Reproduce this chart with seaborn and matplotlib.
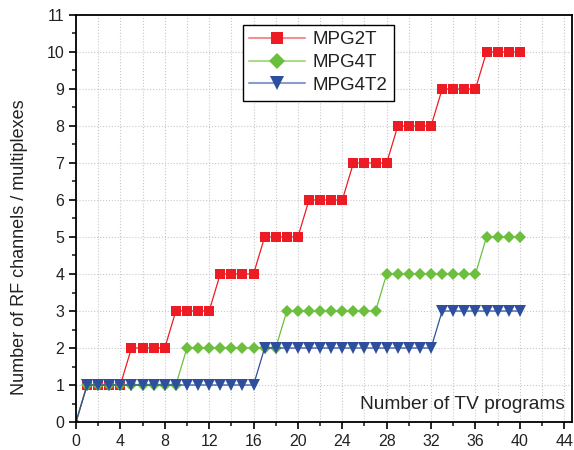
import matplotlib
matplotlib.use("Agg")
import matplotlib.pyplot as plt
from matplotlib.ticker import MultipleLocator
import seaborn as sns

sns.set_theme(style="ticks")
plt.rcParams['font.family'] = ['Liberation Sans', 'DejaVu Sans']

# number of TV programs (0..40)
programs = list(range(0, 41))

# RF channels / multiplexes needed for each scheme
mpg2t = [0,
         1, 1, 1, 1, 2, 2, 2, 2, 3, 3,
         3, 3, 4, 4, 4, 4, 5, 5, 5, 5,
         6, 6, 6, 6, 7, 7, 7, 7, 8, 8,
         8, 8, 9, 9, 9, 9, 10, 10, 10, 10]
mpg4t = [0,
         1, 1, 1, 1, 1, 1, 1, 1, 1, 2,
         2, 2, 2, 2, 2, 2, 2, 2, 3, 3,
         3, 3, 3, 3, 3, 3, 3, 4, 4, 4,
         4, 4, 4, 4, 4, 4, 5, 5, 5, 5]
mpg4t2 = [0,
          1, 1, 1, 1, 1, 1, 1, 1, 1, 1,
          1, 1, 1, 1, 1, 1, 2, 2, 2, 2,
          2, 2, 2, 2, 2, 2, 2, 2, 2, 2,
          2, 2, 3, 3, 3, 3, 3, 3, 3, 3]

series = [
    ("MPG2T", mpg2t, "#ED1C24", "#F39096", "s", 6.8),
    ("MPG4T", mpg4t, "#6CBF3C", "#A9DA8E", "D", 6.5),
    ("MPG4T2", mpg4t2, "#2E4F9E", "#8A9CCB", "v", 8.3),
]

fig = plt.figure(figsize=(5.74, 4.5), dpi=100)
ax = fig.add_axes([0.1324, 0.0622, 0.8641, 0.9045])

for name, vals, col, light, mk, ms in series:
    sns.lineplot(x=programs, y=vals, ax=ax, color=col, marker=mk,
                 markersize=ms, markeredgewidth=0, linewidth=0.9,
                 markevery=list(range(1, 41)), label=name)
    # tiny marker at the origin
    ax.plot([0], [0], marker=mk, color=col, markersize=3, markeredgewidth=0)

ax.set_xlim(0, 44.7)
ax.set_ylim(0, 11)
ax.xaxis.set_major_locator(MultipleLocator(4))
ax.xaxis.set_minor_locator(MultipleLocator(2))
ax.yaxis.set_major_locator(MultipleLocator(1))
ax.yaxis.set_minor_locator(MultipleLocator(0.5))

ax.grid(True, which='both', axis='x', color='#c8c8c8', linestyle=':', linewidth=0.8)
ax.grid(True, which='major', axis='y', color='#c8c8c8', linestyle=':', linewidth=0.8)
ax.grid(False, which='minor', axis='y')
ax.set_axisbelow(True)

ax.tick_params(which='major', direction='out', length=5, width=1.2,
               labelsize=11.5, colors='black', labelcolor='#222222',
               top=False, right=False)
ax.tick_params(which='minor', direction='out', length=3, width=1.2,
               top=False, right=False)
for sp in ax.spines.values():
    sp.set_visible(True)
    sp.set_color('black')
    sp.set_linewidth(1.3)

ax.set_xlabel("")
ax.set_ylabel("Number of RF channels / multiplexes", fontsize=13, color='#222222')
ax.yaxis.set_label_coords(-0.097, 0.43)
ax.text(0.986, 0.032, "Number of TV programs", transform=ax.transAxes,
        ha='right', va='baseline', fontsize=13.8, color='#222222')

leg = ax.legend(loc='upper left', bbox_to_anchor=(0.336, 0.976), fontsize=13.5,
                frameon=True, fancybox=False, edgecolor='black',
                handlelength=3.0, borderpad=0.35, labelspacing=0.3,
                handletextpad=0.4, borderaxespad=0)
leg.get_frame().set_linewidth(1.0)
leg.get_frame().set_alpha(1)
for t in leg.get_texts():
    t.set_color('#222222')
for h, (name, vals, col, light, mk, ms) in zip(leg.get_lines(), series):
    h.set_color(light)
    h.set_markerfacecolor(col)
    h.set_markeredgecolor(col)
    h.set_linewidth(1.5)
    h.set_markersize(ms * 1.2)

fig.savefig("out.png", dpi=100)
